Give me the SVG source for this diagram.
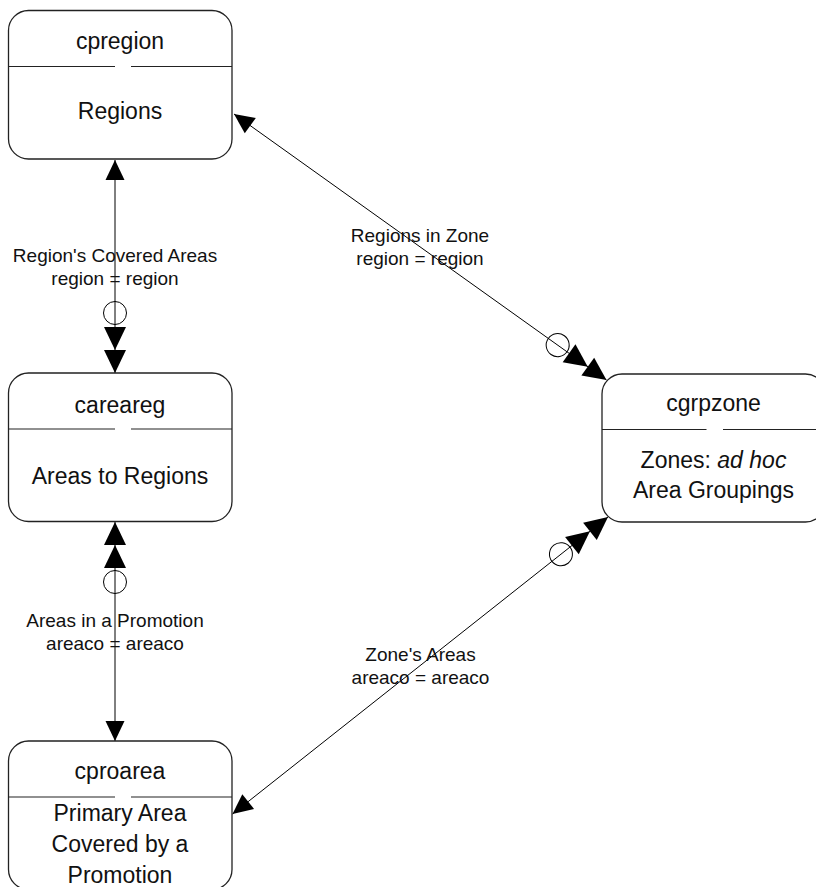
<svg xmlns="http://www.w3.org/2000/svg" width="816" height="887" viewBox="0 0 816 887">
<style>
.box{fill:#fff;stroke:#222;stroke-width:1.3}
.sep{stroke:#222;stroke-width:1.2;fill:none}
.nt{font-family:"Liberation Sans",Arial,sans-serif;font-size:23px;fill:#111;text-anchor:middle}
.lb{font-family:"Liberation Sans",Arial,sans-serif;font-size:19px;fill:#111;text-anchor:middle}
.ln{stroke:#000;stroke-width:1;fill:none}
.ah{fill:#000;stroke:none}
.ci{fill:none;stroke:#000;stroke-width:1}
</style>
<defs>
<path id="one" class="ah" d="M0,0 L-20,-9.5 L-20,9.5 Z"/>
<g id="many">
<path class="ah" d="M0,0 L-23,-11 L-23,11 Z"/>
<path class="ah" d="M-23,0 L-46,-11 L-46,11 Z"/>
<circle class="ci" cx="-60" cy="0" r="11.5"/>
</g>
</defs>
<g id="connectors">
<g id="c1">
<line class="ln" x1="115" y1="160" x2="115" y2="373"/>
<use href="#one" transform="translate(115,160) rotate(-90)"/>
<use href="#many" transform="translate(115,373) rotate(90)"/>
<text class="lb" x="115" y="261.5">Region's Covered Areas</text>
<text class="lb" x="115" y="284.5">region = region</text>
</g>
<g id="c2">
<line class="ln" x1="115" y1="522" x2="115" y2="741"/>
<use href="#many" transform="translate(115,522) rotate(-90)"/>
<use href="#one" transform="translate(115,741) rotate(90)"/>
<text class="lb" x="115" y="626.5">Areas in a Promotion</text>
<text class="lb" x="115" y="649.5">areaco = areaco</text>
</g>
<g id="c3">
<line class="ln" x1="234" y1="114" x2="606.5" y2="380"/>
<use href="#one" transform="translate(234,114) rotate(215.53)"/>
<use href="#many" transform="translate(606.5,380) rotate(35.53)"/>
<text class="lb" x="420" y="241.5">Regions in Zone</text>
<text class="lb" x="420" y="264.5">region = region</text>
</g>
<g id="c4">
<line class="ln" x1="232.5" y1="814" x2="608" y2="517"/>
<use href="#one" transform="translate(232.5,814) rotate(141.66)"/>
<use href="#many" transform="translate(608,517) rotate(-38.34)"/>
<text class="lb" x="420.5" y="660.5">Zone's Areas</text>
<text class="lb" x="420.5" y="683.5">areaco = areaco</text>
</g>
</g>
<g id="cpregion">
<rect class="box" x="8.5" y="10.5" width="223.5" height="148.5" rx="20" ry="20"/>
<path class="sep" d="M8.5,66.5 H115 M131,66.5 H232"/>
<text class="nt" x="120" y="48.5">cpregion</text>
<text class="nt" x="120" y="119">Regions</text>
</g>
<g id="careareg">
<rect class="box" x="8.5" y="373" width="223.5" height="148.5" rx="20" ry="20"/>
<path class="sep" d="M8.5,429 H115 M131,429 H232"/>
<text class="nt" x="120" y="412.5">careareg</text>
<text class="nt" x="120" y="483.5">Areas to Regions</text>
</g>
<g id="cproarea">
<rect class="box" x="8.5" y="741" width="223.5" height="148.5" rx="20" ry="20"/>
<path class="sep" d="M8.5,797 H115 M131,797 H232"/>
<text class="nt" x="120" y="778.5">cproarea</text>
<text class="nt" x="120" y="820.5">Primary Area</text>
<text class="nt" x="120" y="851.5">Covered by a</text>
<text class="nt" x="120" y="882.5">Promotion</text>
</g>
<g id="cgrpzone">
<rect class="box" x="602" y="374" width="223.5" height="148" rx="20" ry="20"/>
<path class="sep" d="M602,429.5 H706.5 M723,429.5 H826"/>
<text class="nt" x="713.5" y="410.5">cgrpzone</text>
<text class="nt" x="713.5" y="467.5">Zones: <tspan font-style="italic">ad hoc</tspan></text>
<text class="nt" x="713.5" y="497.5">Area Groupings</text>
</g>
</svg>
